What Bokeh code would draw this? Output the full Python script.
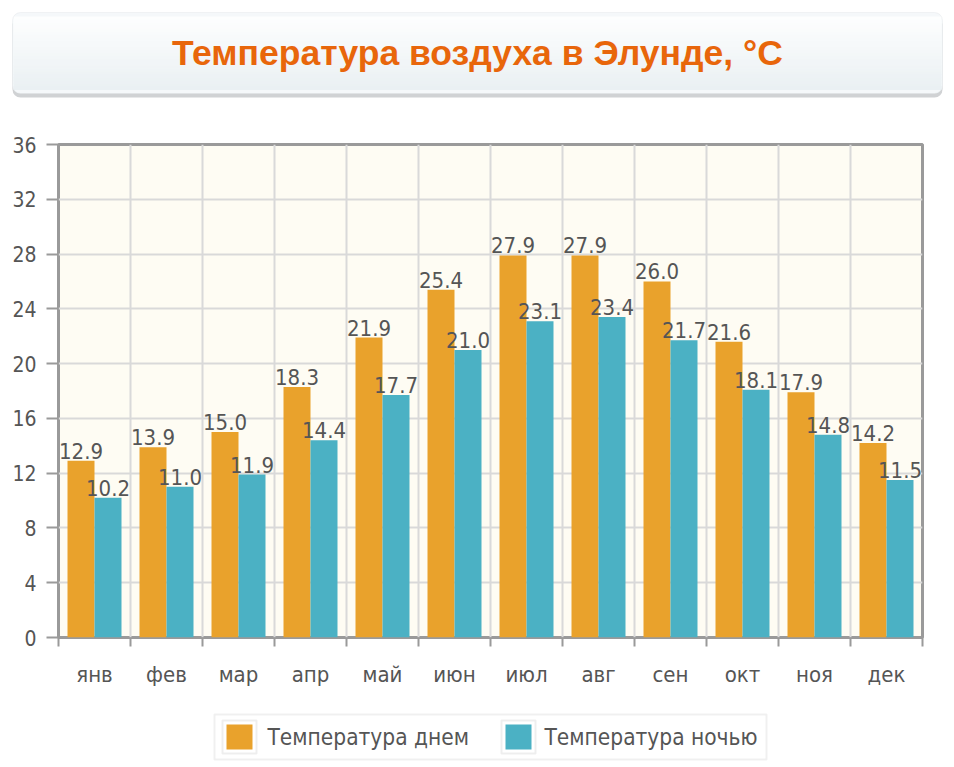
from bokeh.plotting import figure
from bokeh.models import Range1d, FixedTicker, BoxAnnotation, ColumnDataSource, Label
from bokeh.embed import file_html
from bokeh.resources import INLINE
from bokeh.core.properties import value

# ---- data ----
months = ["янв", "фев", "мар", "апр", "май", "июн", "июл", "авг", "сен", "окт", "ноя", "дек"]
day_temp = [12.9, 13.9, 15.0, 18.3, 21.9, 25.4, 27.9, 27.9, 26.0, 21.6, 17.9, 14.2]
night_temp = [10.2, 11.0, 11.9, 14.4, 17.7, 21.0, 23.1, 23.4, 21.7, 18.1, 14.8, 11.5]
series_names = ["Температура днем", "Температура ночью"]
y_ticks = [0, 4, 8, 12, 16, 20, 24, 28, 32, 36]
title_text = "Температура воздуха в Элунде, °C"

# ---- styles ----
W = 954
BL, BR = 58, 32
DAY_COLOR = "#E9A22C"
NIGHT_COLOR = "#4BB1C4"
TEXT_COLOR = "#555555"
FONT = "DejaVu Sans Condensed"
BAR_W = 0.375


def blank(height, y0):
    # a figure whose frame is the whole canvas; data units == page pixels
    f = figure(width=W, height=height, x_range=Range1d(0, W),
               y_range=Range1d(y0 + height, y0),
               output_backend="svg", toolbar_location=None,
               x_axis_location=None, y_axis_location=None, min_border=0,
               min_border_left=0, min_border_right=0, min_border_top=0, min_border_bottom=0)
    f.grid.visible = False
    f.outline_line_color = None
    f.background_fill_color = "white"
    f.border_fill_color = "white"
    return f


# ---------------- title ----------------
TH = 108
t = blank(TH, 0)
t.add_layout(BoxAnnotation(left=12, right=942, top=16, bottom=97, border_radius=8,
                           fill_color="#D0D2D4", fill_alpha=1, line_color=None))
t.add_layout(BoxAnnotation(left=12, right=942, top=12, bottom=93, border_radius=8,
                           fill_color="#F5F8FA", fill_alpha=1, line_color=None))
n = 24
top0, bot0 = 16, 89
c0 = (0xFD, 0xFE, 0xFE)
c1 = (0xEA, 0xF0, 0xF3)
for i in range(n):
    f = i / (n - 1)
    col = "#%02x%02x%02x" % tuple(int(round(a + (b - a) * f)) for a, b in zip(c0, c1))
    t.add_layout(BoxAnnotation(left=13, right=941,
                               top=top0 + (bot0 - top0) * i / n,
                               bottom=top0 + (bot0 - top0) * (i + 1) / n + 0.6,
                               fill_color=col, fill_alpha=1, line_color=None))
t.add_layout(BoxAnnotation(left=12, right=942, top=12, bottom=93, border_radius=8,
                           fill_alpha=0, line_color="#DADDE0", line_width=1))
t.add_layout(Label(x=477, y=52, text=title_text, text_align="center", text_baseline="middle",
                   text_font="Liberation Sans", text_font_style="bold", text_font_size="35.5px",
                   text_color="#E8660B"))

# ---------------- main chart ----------------
PH = 597
src = ColumnDataSource(dict(
    xd=[i + 0.5 - BAR_W / 2 for i in range(len(months))],
    xn=[i + 0.5 + BAR_W / 2 for i in range(len(months))],
    day=day_temp, night=night_temp,
    dl=["%.1f" % v for v in day_temp],
    nl=["%.1f" % v for v in night_temp],
))
p = figure(width=W, height=PH, x_range=Range1d(0, len(months)), y_range=Range1d(0, 36),
           output_backend="svg", toolbar_location=None,
           min_border_left=BL, min_border_right=BR, min_border_top=36, min_border_bottom=68)
p.background_fill_color = "#FEFCF3"
p.border_fill_color = "white"
p.outline_line_color = "#9A9A9A"
p.outline_line_width = 3

p.vbar(x="xd", top="day", width=BAR_W, source=src, fill_color=DAY_COLOR, line_color=None)
p.vbar(x="xn", top="night", width=BAR_W, source=src, fill_color=NIGHT_COLOR, line_color=None)
for xc, yc, lc in (("xd", "day", "dl"), ("xn", "night", "nl")):
    p.text(x=xc, y=yc, text=lc, source=src, text_align="center", text_baseline="alphabetic",
           y_offset=-10, text_font=value(FONT), text_font_size="22px", text_color=TEXT_COLOR)

xt = FixedTicker(ticks=[i + 0.5 for i in range(len(months))],
                 minor_ticks=list(range(len(months) + 1)))
p.xaxis.ticker = xt
p.xgrid.ticker = xt
p.xaxis.major_label_overrides = {i + 0.5: m for i, m in enumerate(months)}
p.xaxis.major_tick_line_color = None
p.xaxis.minor_tick_line_color = "#9A9A9A"
p.xaxis.minor_tick_line_width = 2
p.xaxis.minor_tick_out = 9
p.xaxis.minor_tick_in = 0
p.xaxis.axis_line_color = None
p.xaxis.major_label_standoff = 15
p.xaxis.major_label_text_font = FONT
p.xaxis.major_label_text_font_size = "22px"
p.xaxis.major_label_text_color = TEXT_COLOR
p.xgrid.grid_line_color = None
p.xgrid.minor_grid_line_color = "#D9D9D9"
p.xgrid.minor_grid_line_width = 2

yt = FixedTicker(ticks=y_ticks, minor_ticks=[])
p.yaxis.ticker = yt
p.ygrid.ticker = yt
p.yaxis.major_tick_line_color = "#9A9A9A"
p.yaxis.major_tick_line_width = 2
p.yaxis.major_tick_out = 12
p.yaxis.major_tick_in = 0
p.yaxis.minor_tick_line_color = None
p.yaxis.axis_line_color = None
p.yaxis.major_label_standoff = 10
p.yaxis.major_label_text_font = FONT
p.yaxis.major_label_text_font_size = "21px"
p.yaxis.major_label_text_color = TEXT_COLOR
p.ygrid.grid_line_color = "#D9D9D9"
p.ygrid.grid_line_width = 2

# ---------------- legend ----------------
LY0 = TH + PH
LH = 767 - LY0
lg = blank(LH, LY0)
lg.add_layout(BoxAnnotation(left=214, right=766, top=714, bottom=759, fill_color="white",
                            fill_alpha=1, line_color="#CCCCCC", line_width=2))
sw_left = [222, 501]
txt_left = [267, 544]
colors = [DAY_COLOR, NIGHT_COLOR]
for sl, tl, c, name in zip(sw_left, txt_left, colors, series_names):
    lg.add_layout(BoxAnnotation(left=sl, right=sl + 34, top=720, bottom=753, fill_color="white",
                                fill_alpha=1, line_color="#C8C8C8", line_width=2))
    lg.add_layout(BoxAnnotation(left=sl + 4, right=sl + 30, top=724, bottom=749, fill_color=c,
                                fill_alpha=1, line_color=None))
    lg.add_layout(Label(x=tl, y=736, text=name, text_baseline="middle", text_align="left",
                        text_font=FONT, text_font_size="22.5px", text_color=TEXT_COLOR))

open("out.html", "w").write(file_html([t, p, lg], INLINE))
